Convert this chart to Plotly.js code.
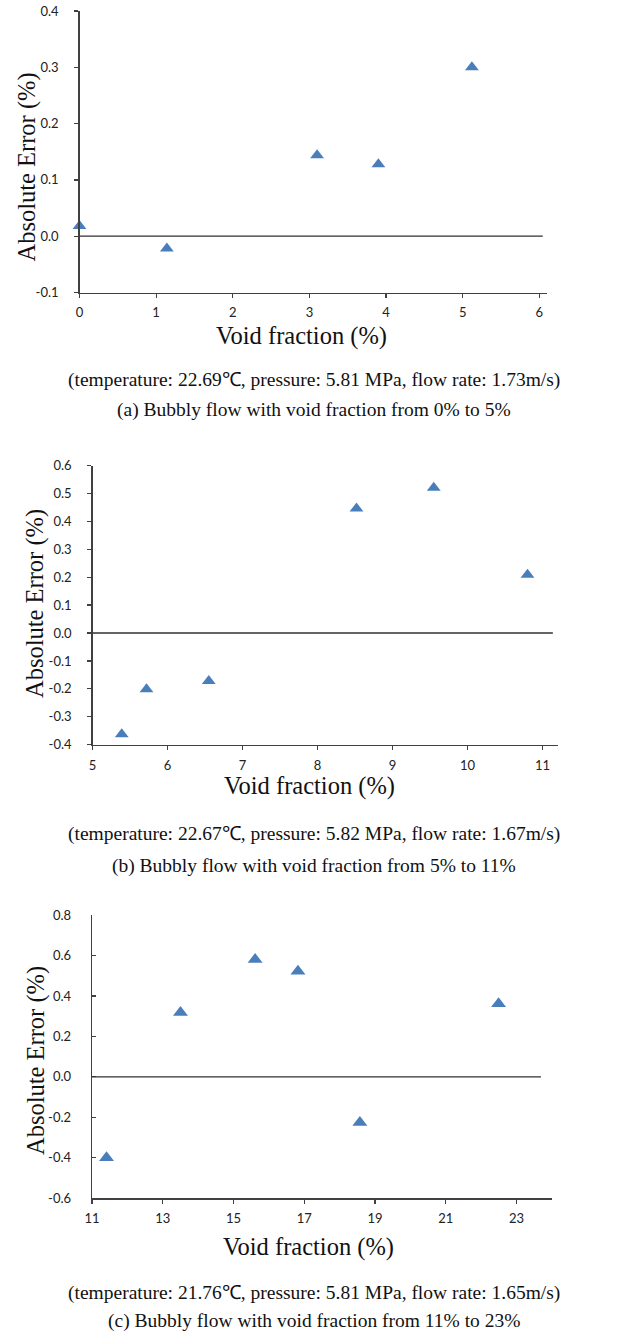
<!DOCTYPE html>
<html><head><meta charset="utf-8">
<script src="https://cdn.plot.ly/plotly-3.0.1.min.js"></script>
<style>html,body{margin:0;padding:0;background:#fff}</style>
</head><body><div id="chart" style="width:624px;height:1333px"></div>
<script>
// ---- data ----
const voidA = [0.00, 1.14, 3.10, 3.90, 5.12];
const errA  = [0.018, -0.022, 0.144, 0.128, 0.300];
const voidB = [5.39, 5.72, 6.55, 8.52, 9.55, 10.80];
const errB  = [-0.363, -0.201, -0.172, 0.446, 0.520, 0.209];
const voidC = [11.41, 13.50, 15.61, 16.82, 18.57, 22.49];
const errC  = [-0.400, 0.318, 0.580, 0.522, -0.226, 0.362];

const xTicksA = [0, 1, 2, 3, 4, 5, 6];
const xTicksB = [5, 6, 7, 8, 9, 10, 11];
const xTicksC = [11, 13, 15, 17, 19, 21, 23];
const yTicksA = [-0.1, 0.0, 0.1, 0.2, 0.3, 0.4];
const yTicksB = [-0.4, -0.3, -0.2, -0.1, 0.0, 0.1, 0.2, 0.3, 0.4, 0.5, 0.6];
const yTicksC = [-0.6, -0.4, -0.2, 0.0, 0.2, 0.4, 0.6, 0.8];

const xTitle = 'Void fraction (%)';
const yTitle = 'Absolute Error (%)';
const captionsA = ['(temperature: 22.69\u2103, pressure: 5.81 MPa, flow rate: 1.73m/s)', '(a) Bubbly flow with void fraction from 0% to 5%'];
const captionsB = ['(temperature: 22.67\u2103, pressure: 5.82 MPa, flow rate: 1.67m/s)', '(b) Bubbly flow with void fraction from 5% to 11%'];
const captionsC = ['(temperature: 21.76\u2103, pressure: 5.81 MPa, flow rate: 1.65m/s)', '(c) Bubbly flow with void fraction from 11% to 23%'];

// ---- layout helpers ----
const W = 624, H = 1333;
const px = x => x / W;
const py = y => 1 - y / H;
const fmt = v => v.toFixed(1);
const serif = 'Liberation Serif, Times New Roman, serif';
const sans = 'Lato, Open Sans, sans-serif';
const axisCol = '#404040';
const markerCol = '#4a7ebb';

function xaxis(domain, range, ticks, anchor) {
  return {domain: domain, range: range, anchor: anchor, tickvals: ticks, ticktext: ticks.map(String),
    showline: true, linecolor: axisCol, linewidth: 1.3, ticks: 'outside', ticklen: 4, tickcolor: axisCol,
    tickwidth: 1.2, showgrid: false, zeroline: false, ticklabelstandoff: 4,
    tickfont: {family: sans, size: 13, color: '#222'}, fixedrange: true};
}
function yaxis(domain, range, ticks, anchor, tickdir) {
  return {domain: domain, range: range, anchor: anchor, tickvals: ticks, ticktext: ticks.map(fmt),
    showline: true, linecolor: axisCol, linewidth: 1.3, ticks: tickdir, ticklen: 4, tickcolor: axisCol,
    tickwidth: 1.2, showgrid: false, zeroline: false, ticklabelstandoff: tickdir === 'inside' ? 17 : 13,
    tickfont: {family: sans, size: 13, color: '#222'}, fixedrange: true};
}
function trace(x, y, xa, ya, size) {
  return {x: x, y: y, xaxis: xa, yaxis: ya, type: 'scatter', mode: 'markers', cliponaxis: false,
    marker: {symbol: 'triangle-up', size: size, color: markerCol}, showlegend: false, hoverinfo: 'x+y'};
}
function zeroLine(xref, yref, end) {
  return {type: 'line', xref: xref + ' domain', yref: yref, x0: 0, x1: end, y0: 0, y1: 0,
    line: {color: '#303030', width: 1.3}};
}
function ann(text, x, y, size, angle) {
  return {text: text, xref: 'paper', yref: 'paper', x: px(x), y: py(y), xanchor: 'center', yanchor: 'middle',
    showarrow: false, textangle: angle || 0, font: {family: serif, size: size, color: '#111'}};
}

const annotations = [
  ann(xTitle, 301, 336, 24.5), ann(yTitle, 26.5, 167, 24.5, -90),
  ann(captionsA[0], 314, 380, 19.5), ann(captionsA[1], 314, 410, 19.5),
  ann(xTitle, 309, 786, 24.5), ann(yTitle, 35, 604, 24.5, -90),
  ann(captionsB[0], 314, 834, 19.5), ann(captionsB[1], 314, 866, 19.5),
  ann(xTitle, 308, 1247, 24.5), ann(yTitle, 36, 1061, 24.5, -90),
  ann(captionsC[0], 314, 1293, 19.5), ann(captionsC[1], 314, 1321, 19.5)
];

const layout = {
  width: W, height: H, autosize: false, margin: {l: 0, r: 0, t: 0, b: 0},
  paper_bgcolor: '#fff', plot_bgcolor: '#fff', showlegend: false,
  xaxis:  xaxis([px(79.5), px(547)], [0, 6.1], xTicksA, 'y'),
  yaxis:  yaxis([py(292.5), py(11)], [-0.1, 0.4], yTicksA, 'x', 'outside'),
  xaxis2: xaxis([px(92.5), px(557.5)], [5, 11.2], xTicksB, 'y2'),
  yaxis2: yaxis([py(744.7), py(465.5)], [-0.4, 0.6], yTicksB, 'x2', 'outside'),
  xaxis3: xaxis([px(92), px(552)], [11, 24], xTicksC, 'y3'),
  yaxis3: yaxis([py(1198.3), py(915)], [-0.6, 0.8], yTicksC, 'x3', 'inside'),
  shapes: [zeroLine('x', 'y', 0.991), zeroLine('x2', 'y2', 0.990), zeroLine('x3', 'y3', 0.976)],
  annotations: annotations
};

const data = [
  trace(voidA, errA, 'x', 'y', 12),
  trace(voidB, errB, 'x2', 'y2', 12),
  trace(voidC, errC, 'x3', 'y3', 13)
];

Plotly.newPlot('chart', data, layout, {displayModeBar: false, staticPlot: true});
</script>
</body></html>
